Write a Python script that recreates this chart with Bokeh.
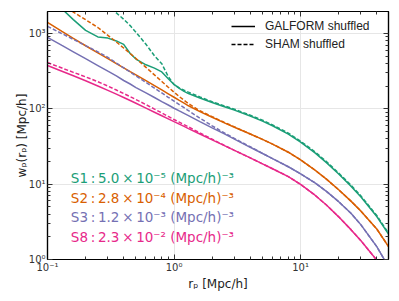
from bokeh.plotting import figure
from bokeh.models import Legend, LegendItem, FixedTicker, LogAxis, Label, Range1d
from bokeh.embed import file_html
from bokeh.resources import INLINE

# ---------------- data ----------------
r_p = [0.1, 0.13, 0.16, 0.2, 0.25, 0.3, 0.35, 0.4, 0.45, 0.5, 0.6, 0.7, 0.8, 0.9, 1.0,
       1.1, 1.2, 1.3, 1.6, 2, 2.5, 3, 4, 5, 6, 8, 10, 13, 16, 20, 25, 30, 40, 50]

s1_galform = [None, 2115, 1523, 1096, 898, 865, 794, 713, 541, 456, 383, 346, 308, 250, 210,
              186, 170, 159, 139, 121, 106.5, 96, 80, 68.5, 59.5, 46, 36.0, 26.0, 19.3, 13.6, 9.4, 6.75, 3.72, 2.12]
s1_sham = [None, None, None, None, 3050, 2330, 1866, 1537, 1267, 1035, 716, 504, 396, 267, 209,
           189, 176, 166, 143, 124, 109, 98.5, 82, 70.5, 61, 47.5, 37.1, 26.8, 19.9, 14.0, 9.7, 6.95, 3.83, 2.18]

s2_galform = [1402, 1060, 856, 685, 550, 461, 397, 349, 311, 281, 235.5, 202.5, 177.5, 157.8, 142,
              129, 118.6, 109.5, 91.5, 77, 65, 56.8, 46.2, 39.2, 34.0, 26.5, 21.0, 15.33, 11.63, 8.41, 5.95, 4.38, 2.54, 1.45]
s2_sham = [None, 2393, 1918, 1520, 1195, 942, 768, 639, 541, 464, 354, 281, 230, 193, 165.6,
           145, 129.5, 117, 94, 78.5, 65.8, 57.5, 46.2, 39.2, 34.0, 26.5, 21.0, 15.33, 11.63, 8.41, 5.95, 4.38, 2.54, 1.45]

s3_galform = [885, 691, 569, 461, 374, 315, 273, 237, 213, 191, 162, 141, 124, 112, 101.6,
              93.5, 86.8, 81, 67.5, 55.8, 46.4, 39.6, 30.8, 25.5, 21.8, 17.0, 13.7, 10.4, 8.0, 5.85, 4.1, 2.88, 1.48, 0.78]
s3_sham = [1240, 992, 832, 688, 569, 479, 404, 349, 307, 273, 223, 188, 162, 142, 126.5,
           113.6, 103.1, 94.3, 75.1, 59.4, 47.7, 40.3, 31.3, 25.6, 21.8, 17.0, 13.7, 10.4, 8.0, 5.85, 4.1, 2.88, 1.48, 0.78]

s8_galform = [374, 315, 274, 235, 200.5, 175.5, 156.3, 141, 128.5, 118.1, 101.9, 89.9, 80.7, 73.4, 67.4,
              62.5, 58.3, 54.6, 46.2, 38.7, 32.4, 28.0, 22.3, 18.6, 16.0, 12.6, 9.9, 7.13, 5.28, 3.68, 2.49, 1.77, 0.98, 0.57]
s8_sham = [410, 347, 304, 265, 228, 200, 177, 159, 144.5, 132.5, 113.5, 99, 88, 79, 72,
           66.3, 61.5, 57.5, 47.8, 39.5, 32.6, 28.0, 22.3, 18.6, 16.0, 12.6, 9.9, 7.13, 5.28, 3.68, 2.49, 1.77, 0.98, 0.57]

TS = "\u2009"  # thin space
sample_labels = ["S1" + TS + ":" + TS + "5.0" + TS + "\u00d7" + TS + "10\u207b\u2075 (Mpc/h)\u207b\u00b3",
                 "S2" + TS + ":" + TS + "2.8" + TS + "\u00d7" + TS + "10\u207b\u2074 (Mpc/h)\u207b\u00b3",
                 "S3" + TS + ":" + TS + "1.2" + TS + "\u00d7" + TS + "10\u207b\u00b3 (Mpc/h)\u207b\u00b3",
                 "S8" + TS + ":" + TS + "2.3" + TS + "\u00d7" + TS + "10\u207b\u00b2 (Mpc/h)\u207b\u00b3"]
colors = ["#1b9e77", "#d95f02", "#7570b3", "#e7298a"]
legend_labels = ["GALFORM shuffled", "SHAM shuffled"]

x_ticks = [0.1, 1, 10]
x_tick_labels = ["10\u207b\u00b9", "10\u2070", "10\u00b9"]
x_minor = [0.2, 0.3, 0.4, 0.5, 0.6, 0.7, 0.8, 0.9, 2, 3, 4, 5, 6, 7, 8, 9, 20, 30, 40]
y_ticks = [1, 10, 100, 1000]
y_tick_labels = ["10\u2070", "10\u00b9", "10\u00b2", "10\u00b3"]
y_minor = [2, 3, 4, 5, 6, 7, 8, 9, 20, 30, 40, 50, 60, 70, 80, 90,
           200, 300, 400, 500, 600, 700, 800, 900]


def clean(xs, ys):
    pts = [(a, b) for a, b in zip(xs, ys) if b is not None]
    return [a for a, _ in pts], [b for _, b in pts]


# ---------------- figure ----------------
p = figure(width=391, height=297, x_axis_type="log", y_axis_type="log",
           x_range=Range1d(0.1, 49.5), y_range=Range1d(1, 1950),
           output_backend="svg", toolbar_location=None,
           min_border_left=47, min_border_right=3, min_border_top=11, min_border_bottom=38)
p.background_fill_color = "white"
p.border_fill_color = "white"
p.outline_line_color = "black"
p.outline_line_width = 1.2

DASH = "4 2"
LW = 1.5

series = [(s1_galform, s1_sham), (s2_galform, s2_sham), (s3_galform, s3_sham), (s8_galform, s8_sham)]
for (g, s), c in zip(series, colors):
    xs, ys = clean(r_p, g)
    p.line(xs, ys, color=c, line_width=LW)
    xs, ys = clean(r_p, s)
    p.line(xs, ys, color=c, line_width=LW, line_dash=DASH)

xt = FixedTicker(ticks=x_ticks, minor_ticks=x_minor)
yt = FixedTicker(ticks=y_ticks, minor_ticks=y_minor)


def style_axis(ax, ticker, labels, show_labels=True):
    ax.ticker = ticker
    ax.axis_line_color = "black"
    ax.axis_line_width = 1.2
    ax.major_tick_in = 5
    ax.major_tick_out = 0
    ax.minor_tick_in = 3
    ax.minor_tick_out = 0
    ax.major_tick_line_color = "#333333"
    ax.minor_tick_line_color = "#333333"
    ax.major_label_overrides = dict(zip(ticker.ticks, labels))
    ax.major_label_text_font = "DejaVu Sans"
    ax.major_label_text_font_size = "10px" if show_labels else "0px"
    ax.major_label_text_color = "#333333"
    ax.axis_label_text_font = "DejaVu Sans"
    ax.axis_label_text_font_size = "12px"
    ax.axis_label_text_font_style = "normal"
    ax.axis_label_text_color = "#222222"


style_axis(p.xaxis[0], xt, x_tick_labels)
style_axis(p.yaxis[0], yt, y_tick_labels)
p.xaxis[0].axis_label = "r\u209a [Mpc/h]"
p.yaxis[0].axis_label = "w\u209a(r\u209a) [Mpc/h]"
p.xaxis[0].major_label_standoff = 2
p.yaxis[0].major_label_standoff = 2
p.xaxis[0].axis_label_standoff = 1
p.yaxis[0].axis_label_standoff = -3

top_ax = LogAxis()
style_axis(top_ax, xt, ["", "", ""], show_labels=False)
top_ax.major_label_standoff = 0
right_ax = LogAxis()
style_axis(right_ax, yt, ["", "", "", ""], show_labels=False)
right_ax.major_label_standoff = 0
p.add_layout(top_ax, "above")
p.add_layout(right_ax, "right")

for g in (p.xgrid[0], p.ygrid[0]):
    g.grid_line_color = "#e6e6e6"
    g.grid_line_width = 1
p.xgrid[0].ticker = xt
p.ygrid[0].ticker = yt

# legend (black key lines; NaN data so nothing is drawn in the plot)
nan = float("nan")
r_solid = p.line([nan, nan], [nan, nan], color="black", line_width=LW)
r_dash = p.line([nan, nan], [nan, nan], color="black", line_width=LW, line_dash=DASH)
legend = Legend(items=[LegendItem(label=legend_labels[0], renderers=[r_solid]),
                       LegendItem(label=legend_labels[1], renderers=[r_dash])],
                location="top_right", background_fill_alpha=0, border_line_alpha=0,
                label_text_font="Liberation Sans", label_text_font_size="12px",
                label_text_color="#222222",
                glyph_width=24, glyph_height=18, label_height=18, label_width=117, spacing=0,
                padding=4, margin=2, label_standoff=10)
p.add_layout(legend)

# sample annotations
for txt, c, yv in zip(sample_labels, colors, [12.0, 6.5, 3.63, 1.97]):
    p.add_layout(Label(x=0.153, y=yv, text=txt, text_color=c, text_font="DejaVu Sans",
                       text_font_size="13.5px", text_baseline="middle"))

open("out.html", "w").write(file_html(p, INLINE))
